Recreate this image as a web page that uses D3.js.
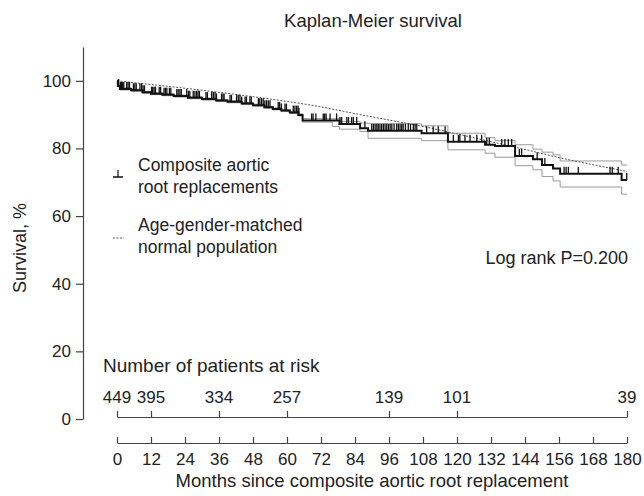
<!DOCTYPE html>
<html lang="en">
<head>
<meta charset="UTF-8">
<script src="https://cdn.jsdelivr.net/npm/d3@7"></script>
<title>Kaplan-Meier survival</title>
<style>
    body { margin: 0; background: #fff; }
    text { font-family: "Liberation Sans", Arial, sans-serif; fill: #222; }
    .axis path, .axis line { stroke: #444; stroke-width: 1.2; }
    .axis text { font-size: 17px; fill: #222; font-family: "Liberation Sans", Arial, sans-serif; }
</style>
</head>
<body>
<script>
    // step times (months) and survival %
    var stepTimes = [0, 0.3, 1, 5, 9, 12, 16, 20, 25, 30, 35, 39, 44, 48, 52, 55, 58, 61, 64, 65.5, 76, 78.5, 85.8, 88.6, 107.5, 116.8, 129.9, 133.4, 140.5, 146.8, 150, 153.9, 156.4, 178.1, 180];
    var survival  = [100, 98.5, 97.6, 97.2, 96.6, 96.2, 95.9, 95.5, 95.0, 94.6, 94.2, 93.8, 93.3, 92.8, 92.2, 91.7, 91.2, 90.6, 89.9, 88.3, 88.3, 87.2, 86.0, 85.2, 84.5, 82.0, 81.1, 80.7, 77.8, 76.8, 75.1, 74.1, 72.5, 70.7, 70.7];
    var upperCI   = [100, 98.7, 97.9, 97.5, 96.9, 96.5, 96.2, 95.8, 95.3, 94.9, 94.5, 94.1, 93.6, 93.1, 92.5, 92.0, 91.5, 90.9, 90.2, 88.8, 88.8, 88.0, 87.5, 87.3, 86.7, 84.5, 83.2, 82.3, 81.1, 79.8, 78.9, 78.1, 76.3, 75.1, 75.1];
    var lowerCI   = [100, 98.3, 97.3, 96.9, 96.3, 95.9, 95.6, 95.2, 94.7, 94.3, 93.9, 93.5, 93.0, 92.5, 91.9, 91.4, 90.9, 90.3, 89.6, 87.8, 86.5, 85.7, 85.0, 83.0, 82.3, 79.6, 78.6, 77.4, 74.9, 73.7, 71.7, 70.4, 68.6, 66.5, 66.5];

    var censorTimes = [0.6, 1.2, 1.6, 2.0, 2.4, 3.4, 3.9, 4.4, 5.8, 6.3, 6.8, 8.1, 8.7, 9.2, 9.7, 12.2, 12.6, 13.1, 13.6, 14.9, 15.4,
        16.6, 17.1, 17.6, 18.5, 19.0, 21.1, 21.6, 22.2, 22.7, 24.6, 25.2, 25.7, 26.9, 27.5, 28.1, 28.6, 29.1, 31.4, 31.9, 33.4,
        34.0, 34.6, 35.1, 36.9, 37.4, 37.8, 39.9, 40.4, 42.2, 42.8, 43.4, 44.0, 45.2, 45.7, 46.9, 47.4, 49.9, 50.4, 51.0, 51.6,
        52.2, 52.8, 53.4, 54.0, 56.9, 57.4, 58.0, 59.3, 59.8, 62.2, 62.8, 63.4, 63.9, 64.2, 68.7, 69.2, 70.2, 72.8, 73.3, 73.8,
        75.2, 77.5, 78.7, 79.3, 81.1, 81.7, 82.8, 83.4, 84.6, 87.5, 89.9, 90.5, 91.1, 91.7, 92.2, 92.8, 93.4, 94.0, 94.6, 95.2,
        95.8, 96.4, 97.0, 97.8, 98.7, 99.3, 99.9, 100.5, 101.0, 101.8, 102.8, 103.6, 104.6, 105.2, 105.8, 109.3, 111.6, 113.4,
        115.8, 118.7, 120.5, 121.0, 122.8, 124.6, 127.0, 128.7, 130.5, 131.4, 135.8, 136.9, 138.1, 139.3, 142.0, 142.8, 148.3,
        151.0, 157.8, 158.5, 159.3, 162.8, 174.0, 174.8, 176.9, 179.9];

    // age-gender-matched expected survival
    var expTimes = [0, 12, 24, 36, 48, 60, 72, 84, 96, 108, 120, 132, 144, 156, 168, 180];
    var expSurv  = [100, 98.9, 97.8, 96.6, 95.3, 93.9, 92.3, 90.3, 88.4, 86.5, 84.3, 82.0, 79.7, 77.3, 75.2, 73.2];

    var riskTimes = [0, 12, 36, 60, 96, 120, 180];
    var riskCounts = [449, 395, 334, 257, 139, 101, 39];

    var xTicks = d3.range(0, 181, 12);
    var yTicks = [0, 20, 40, 60, 80, 100];

    var width = 644, height = 496;
    var svg = d3.select("body").append("svg")
        .attr("width", width)
        .attr("height", height);

    var x = d3.scaleLinear().domain([0, 180]).range([117, 627]);
    var y = d3.scaleLinear().domain([0, 110]).range([419, 47]);

    // title
    svg.append("text")
        .attr("x", 373).attr("y", 27)
        .attr("text-anchor", "middle")
        .style("font-size", "18.5px")
        .text("Kaplan-Meier survival");

    // y axis
    svg.append("g")
        .attr("class", "axis")
        .attr("transform", "translate(83,0)")
        .call(d3.axisLeft(y).tickValues(yTicks).tickSize(7).tickSizeOuter(0).tickPadding(5));

    svg.append("text")
        .attr("transform", "translate(26,248) rotate(-90)")
        .attr("text-anchor", "middle")
        .style("font-size", "18px")
        .text("Survival, %");

    // x axis (bottom)
    svg.append("g")
        .attr("class", "axis")
        .attr("transform", "translate(0,443)")
        .call(d3.axisBottom(x).tickValues(xTicks).tickSize(-6).tickSizeOuter(0).tickPadding(10));

    svg.append("text")
        .attr("x", 372).attr("y", 487)
        .attr("text-anchor", "middle")
        .style("font-size", "18.5px")
        .text("Months since composite aortic root replacement");

    // risk table axis
    svg.append("g")
        .attr("class", "axis")
        .attr("transform", "translate(0,417)")
        .call(d3.axisBottom(x).tickValues(riskTimes).tickSize(-6).tickSizeOuter(0).tickFormat(""));

    svg.append("text")
        .attr("x", 103).attr("y", 372)
        .style("font-size", "19px")
        .text("Number of patients at risk");

    svg.selectAll(".risk")
        .data(riskTimes)
        .enter().append("text")
        .attr("class", "risk")
        .attr("x", function(d) { return x(d); })
        .attr("y", 403)
        .attr("text-anchor", "middle")
        .style("font-size", "17px")
        .text(function(d, i) { return riskCounts[i]; });

    // curves
    var stepLine = d3.line()
        .x(function(d) { return x(d[0]); })
        .y(function(d) { return y(d[1]); })
        .curve(d3.curveStepAfter);

    svg.append("path")
        .datum(stepTimes.map(function(t, i) { return [t, upperCI[i]]; }))
        .attr("d", stepLine)
        .attr("fill", "none").attr("stroke", "#9a9a9a").attr("stroke-width", 1);

    svg.append("path")
        .datum(stepTimes.map(function(t, i) { return [t, lowerCI[i]]; }))
        .attr("d", stepLine)
        .attr("fill", "none").attr("stroke", "#9a9a9a").attr("stroke-width", 1);

    var expLine = d3.line()
        .x(function(d) { return x(d[0]); })
        .y(function(d) { return y(d[1]); })
        .curve(d3.curveMonotoneX);

    svg.append("path")
        .datum(expTimes.map(function(t, i) { return [t, expSurv[i]]; }))
        .attr("d", expLine)
        .attr("fill", "none").attr("stroke", "#555").attr("stroke-width", 1)
        .attr("stroke-dasharray", "2,1.5");

    svg.append("path")
        .datum(stepTimes.map(function(t, i) { return [t, survival[i]]; }))
        .attr("d", stepLine)
        .attr("fill", "none").attr("stroke", "#111").attr("stroke-width", 2);

    // censor marks
    var bis = d3.bisector(function(d) { return d; }).right;
    svg.selectAll(".censor")
        .data(censorTimes)
        .enter().append("line")
        .attr("class", "censor")
        .attr("x1", function(d) { return x(d); })
        .attr("x2", function(d) { return x(d); })
        .attr("y1", function(d) { return y(survival[bis(stepTimes, d) - 1]); })
        .attr("y2", function(d) { return y(survival[bis(stepTimes, d) - 1]) - 7; })
        .attr("stroke", "#111").attr("stroke-width", 1.3);

    // legend
    var leg = svg.append("g");
    leg.append("line").attr("x1", 113).attr("x2", 123).attr("y1", 177).attr("y2", 177)
        .attr("stroke", "#111").attr("stroke-width", 1.5);
    leg.append("line").attr("x1", 118).attr("x2", 118).attr("y1", 170).attr("y2", 177)
        .attr("stroke", "#111").attr("stroke-width", 1.2);
    leg.append("line").attr("x1", 113).attr("x2", 124).attr("y1", 238).attr("y2", 238)
        .attr("stroke", "#555").attr("stroke-width", 1).attr("stroke-dasharray", "2,1.5");

    var legLines = [["Composite aortic", 171], ["root replacements", 193], ["Age-gender-matched", 231], ["normal population", 253]];
    leg.selectAll(".lt")
        .data(legLines)
        .enter().append("text")
        .attr("x", 138)
        .attr("y", function(d) { return d[1]; })
        .style("font-size", "17.5px")
        .text(function(d) { return d[0]; });

    svg.append("text")
        .attr("x", 628).attr("y", 264)
        .attr("text-anchor", "end")
        .style("font-size", "18px")
        .text("Log rank P=0.200");
</script>
</body>
</html>
